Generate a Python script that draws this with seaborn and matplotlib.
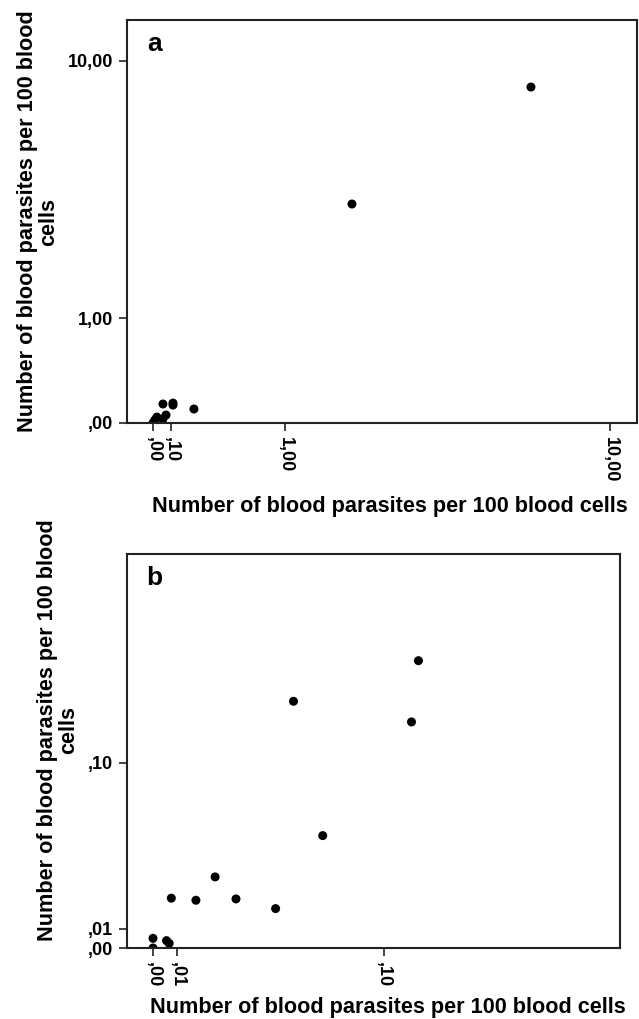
import numpy as np
import seaborn as sns
import matplotlib.pyplot as plt

# panel a values (blood parasites per 100 blood cells)
a_x = [0.0, 0.010, 0.021, 0.054, 0.054, 0.071, 0.111, 0.111, 0.240, 1.84, 6.26]
a_y = [0.0, 0.020, 0.040, 0.027, 0.134, 0.054, 0.141, 0.126, 0.097, 3.26, 8.24]

# panel b values
b_x = [0.0, 0.0, 0.0056, 0.0067, 0.0076, 0.0179, 0.0260, 0.0349, 0.0520,
       0.0727, 0.0598, 0.1128, 0.1160]
b_y = [0.0050, 0.0, 0.0038, 0.0024, 0.0260, 0.0249, 0.0373, 0.0256, 0.0205,
       0.0596, 0.1355, 0.1235, 0.1595]

a_ticks = [0, 0.1, 1, 10]
a_xlabels = [",00", ",10", "1,00", "10,00"]
a_yticks = [0, 1, 10]
a_ylabels = [",00", "1,00", "10,00"]
b_ticks = [0, 0.01, 0.1]
b_labels = [",00", ",01", ",10"]

xlabel = "Number of blood parasites per 100 blood cells"
ylabel = "Number of blood parasites per 100 blood\ncells"

sns.set_style("ticks")
plt.rcParams["font.family"] = ["Liberation Sans", "DejaVu Sans"]
plt.rcParams["font.weight"] = "bold"
plt.rcParams["text.color"] = "black"
plt.rcParams["axes.labelcolor"] = "black"
plt.rcParams["xtick.color"] = "black"
plt.rcParams["ytick.color"] = "black"


def fwd(v):
    return np.log10(np.asarray(v) + 1)


def inv(v):
    return 10 ** np.asarray(v) - 1


W, H = 639, 1019
fig = plt.figure(figsize=(W / 100, H / 100), dpi=100)
ax_a = fig.add_axes([127 / W, 1 - 423 / H, (637 - 127) / W, (423 - 20) / H])
ax_b = fig.add_axes([127 / W, 1 - 948 / H, (620 - 127) / W, (948 - 554) / H])

panels = [
    (ax_a, a_x, a_y, a_ticks, a_xlabels, a_yticks, a_ylabels,
     (-0.127, 11.66), (0, 13.4), "a", 0.5, 0.516, 10),
    (ax_b, b_x, b_y, b_ticks, b_labels, b_ticks, b_labels,
     (-0.0107, 0.213), (0, 0.225), "b", 0.553, 0.529, 7),
]

for ax, xs, ys, xt, xtl, yt, ytl, xl, yl, tag, ypos, xpos, xpad in panels:
    sns.scatterplot(x=xs, y=ys, ax=ax, color="black", s=42, edgecolor="none")
    ax.set_xscale("function", functions=(fwd, inv))
    ax.set_yscale("function", functions=(fwd, inv))
    ax.set_xlim(*xl)
    ax.set_ylim(*yl)
    ax.set_xticks(xt)
    ax.set_xticklabels(xtl, rotation=270, fontsize=13, fontweight="bold")
    ax.set_yticks(yt)
    ax.set_yticklabels(ytl, fontsize=13, fontweight="bold")
    ax.minorticks_off()
    ax.tick_params(length=6, width=1.2, color="#222222", pad=4)
    for sp in ax.spines.values():
        sp.set_linewidth(1.5)
        sp.set_color("#222222")
    ax.set_xlabel(xlabel, fontsize=15.6, fontweight="bold", labelpad=xpad)
    ax.xaxis.label.set_x(xpos)
    ax.set_ylabel(ylabel, fontsize=15.6, fontweight="bold", labelpad=6,
                  linespacing=1.05)
    ax.yaxis.label.set_y(ypos)
    ax.text(0.04, 0.94, tag, transform=ax.transAxes, fontsize=19,
            fontweight="bold", va="center", ha="left")

fig.savefig("out.png", dpi=100)
plt.close()
